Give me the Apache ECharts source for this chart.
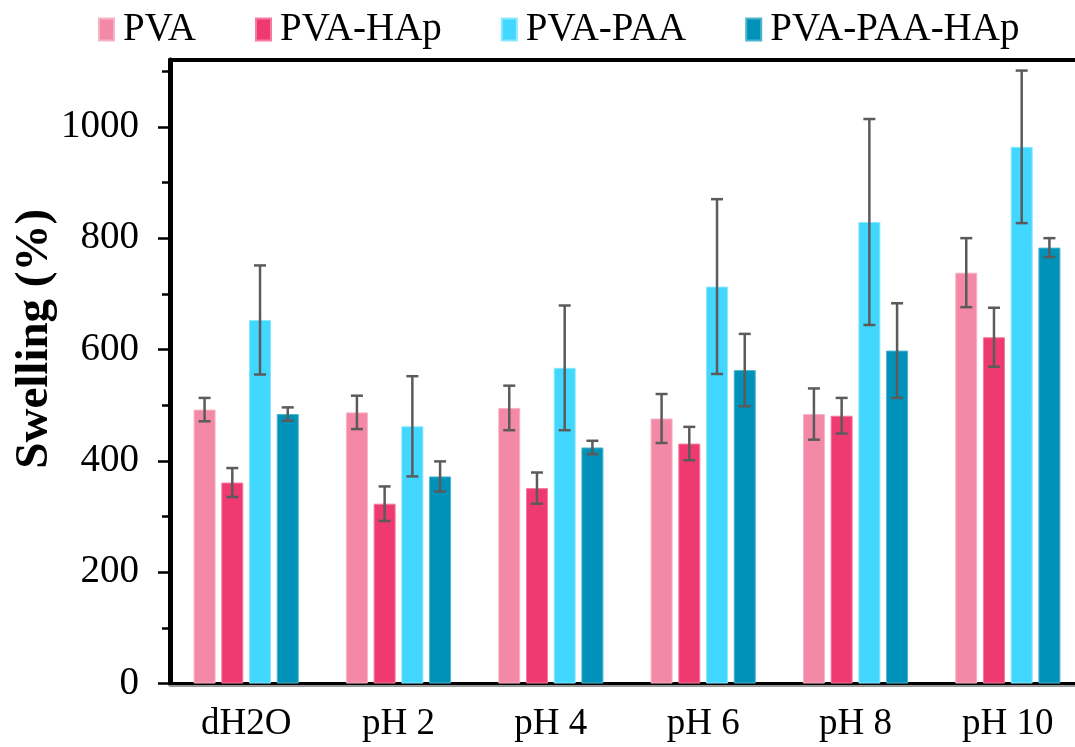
<!DOCTYPE html>
<html>
<head>
<meta charset="utf-8">
<script src="https://cdn.jsdelivr.net/npm/echarts@6/dist/echarts.min.js"></script>
<style>html,body{margin:0;padding:0;background:#fff}#c{width:1075px;height:747px}</style>
</head>
<body>
<div id="c"></div>
<script>
const categories = ['dH2O', 'pH 2', 'pH 4', 'pH 6', 'pH 8', 'pH 10'];
const seriesNames = ['PVA', 'PVA-HAp', 'PVA-PAA', 'PVA-PAA-HAp'];
const pva = [492, 487, 495, 476, 484, 738];
const pvaErr = [21, 30, 40, 44, 46, 62];
const pvaHap = [361, 323, 351, 431, 481, 622];
const pvaHapErr = [26, 31, 28, 30, 32, 53];
const pvaPaa = [653, 462, 567, 713, 829, 964];
const pvaPaaErr = [98, 90, 112, 157, 185, 137];
const pvaPaaHap = [484, 372, 424, 563, 598, 783];
const pvaPaaHapErr = [12, 27, 12, 65, 85, 17];
const majorTicks = [0, 200, 400, 600, 800, 1000];
const minorTicks = [100, 300, 500, 700, 900, 1100];

const colors = ['#F388A7', '#EF3A71', '#41D7FF', '#0092B8'];
const borders = ['#F7B3C6', '#F47C9F', '#8CE7FF', '#4DB3CF'];
const values = [pva, pvaHap, pvaPaa, pvaPaaHap];
const errors = [pvaErr, pvaHapErr, pvaPaaErr, pvaPaaHapErr];

const BAR_W = 22, GAP_RATIO = 0.26;
const pitch = BAR_W * (1 + GAP_RATIO);
const groupW = BAR_W * 4 + BAR_W * GAP_RATIO * 3;
const FONT = '"Liberation Serif", "Times New Roman", serif';

const series = [];
values.forEach((vals, i) => {
  series.push({
    name: seriesNames[i],
    type: 'bar',
    data: vals,
    barWidth: BAR_W,
    barGap: (GAP_RATIO * 100) + '%',
    itemStyle: { color: colors[i], borderColor: borders[i], borderWidth: 1 },
    emphasis: { disabled: true }
  });
});
values.forEach((vals, i) => {
  const off = -groupW / 2 + BAR_W / 2 + i * pitch;
  series.push({
    type: 'custom',
    z: 10,
    silent: true,
    data: vals.map((v, k) => [k, v, errors[i][k]]),
    encode: { x: 0, y: 1 },
    renderItem: function (params, api) {
      const k = api.value(0), v = api.value(1), e = api.value(2);
      const hi = api.coord([k, v + e]);
      const lo = api.coord([k, v - e]);
      const x = hi[0] + off;
      const cap = 6;
      const st = { stroke: '#5B5B5B', lineWidth: 2.5 };
      return {
        type: 'group',
        children: [
          { type: 'line', shape: { x1: x, y1: hi[1], x2: x, y2: lo[1] }, style: st },
          { type: 'line', shape: { x1: x - cap, y1: hi[1], x2: x + cap, y2: hi[1] }, style: st },
          { type: 'line', shape: { x1: x - cap, y1: lo[1], x2: x + cap, y2: lo[1] }, style: st }
        ]
      };
    }
  });
});

const chart = echarts.init(document.getElementById('c'), null, { renderer: 'canvas' });
chart.setOption({
  animation: false,
  backgroundColor: '#fff',
  textStyle: { fontFamily: FONT },
  legend: {
    data: seriesNames,
    left: 93,
    top: 5,
    itemWidth: 15,
    itemHeight: 22,
    itemGap: 59,
    icon: 'rect',
    textStyle: { fontFamily: FONT, fontSize: 39, color: '#000', padding: [0, 0, 0, 4] }
  },
  grid: { left: 170, width: 914, top: 60, bottom: 63.5, containLabel: false, outerBoundsMode: 'none' },
  xAxis: [{
    type: 'category',
    data: categories,
    position: 'bottom',
    axisLine: { onZero: false, lineStyle: { color: '#000', width: 3, shadowColor: '#999', shadowOffsetY: 2 } },
    axisTick: { show: false },
    axisLabel: { fontFamily: FONT, fontSize: 37, color: '#000', margin: 22 },
    splitLine: { show: false }
  }, {
    type: 'category',
    data: categories,
    position: 'top',
    axisLine: { show: true, onZero: false, lineStyle: { color: '#000', width: 4 } },
    axisTick: { show: false },
    axisLabel: { show: false },
    splitLine: { show: false }
  }],
  yAxis: [{
    type: 'value',
    min: 0,
    max: 1120,
    interval: 200,
    position: 'left',
    name: 'Swelling (%)',
    nameLocation: 'middle',
    nameGap: 112,
    nameMoveOverlap: false,
    nameRotate: 90,
    nameTextStyle: { fontFamily: FONT, fontSize: 47, fontWeight: 'bold', color: '#000', padding: [0, 0, 0, 66] },
    axisLine: { show: true, onZero: false, lineStyle: { color: '#000', width: 5 } },
    axisTick: { show: true, length: 12, lineStyle: { color: '#000', width: 2.5 }, customValues: majorTicks },
    axisLabel: { fontFamily: FONT, fontSize: 39, color: '#000', margin: 31, customValues: majorTicks,
      formatter: function (v) { return String(v); } },
    splitLine: { show: false }
  }, {
    type: 'value',
    min: 0,
    max: 1120,
    interval: 200,
    position: 'left',
    axisLine: { show: false },
    axisTick: { show: true, length: 8, lineStyle: { color: '#000', width: 2.5 }, customValues: minorTicks },
    axisLabel: { show: false },
    splitLine: { show: false }
  }],
  series: series
});
</script>
</body>
</html>
